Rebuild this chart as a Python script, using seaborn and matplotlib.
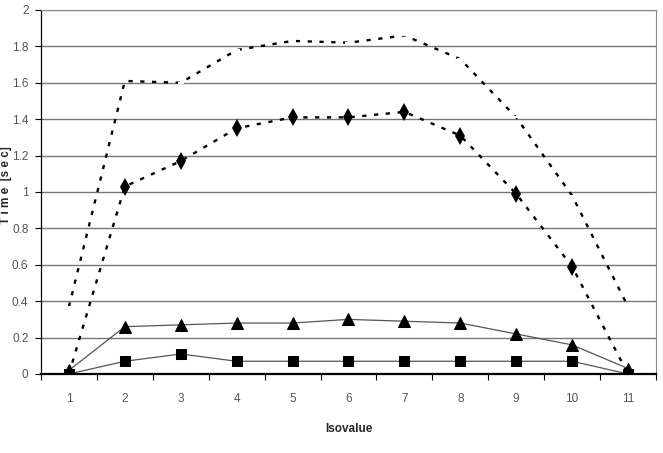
import matplotlib
matplotlib.use("Agg")
import matplotlib.pyplot as plt
import seaborn as sns
import pandas as pd

isovalue = [1, 2, 3, 4, 5, 6, 7, 8, 9, 10, 11]
series_top = [0.37, 1.61, 1.60, 1.78, 1.83, 1.82, 1.86, 1.73, 1.41, 0.98, 0.37]
series_diamond = [0.0, 1.03, 1.17, 1.35, 1.41, 1.41, 1.44, 1.31, 0.99, 0.59, 0.0]
series_triangle = [0.02, 0.26, 0.27, 0.28, 0.28, 0.30, 0.29, 0.28, 0.22, 0.16, 0.03]
series_square = [0.0, 0.07, 0.11, 0.07, 0.07, 0.07, 0.07, 0.07, 0.07, 0.07, 0.0]
y_ticks = [0, 0.2, 0.4, 0.6, 0.8, 1, 1.2, 1.4, 1.6, 1.8, 2]

sns.set_style("white")
plt.rcParams['font.family'] = ['Liberation Sans', 'DejaVu Sans']

fig = plt.figure(figsize=(6.63, 4.53), dpi=100)
ax = fig.add_axes([0.0618, 0.1744, 0.9276, 0.8036])

styles = [
    (series_top, dict(color='black', lw=1.7, ls=(0, (1.8, 3.2)), marker='_', ms=5, mew=1.5)),
    (series_diamond, dict(color='black', lw=1.7, ls=(0, (1.8, 3.2)), marker='d', ms=9, mew=0)),
    (series_triangle, dict(color='#555555', lw=0.9, ls='-', marker='^', ms=8, mfc='black', mec='black')),
    (series_square, dict(color='#555555', lw=0.9, ls='-', marker='s', ms=7, mfc='black', mec='black')),
]
for vals, kw in styles:
    df = pd.DataFrame({'Isovalue': isovalue, 'Time': vals})
    sns.lineplot(data=df, x='Isovalue', y='Time', ax=ax, **kw)

ax.set_xlim(0.5, 11.5)
ax.set_ylim(0, 2)
ax.set_yticks(y_ticks)
ax.set_yticklabels(['0', '0.2', '0.4', '0.6', '0.8', '1', '1.2', '1.4', '1.6', '1.8', '2'])
ax.set_xticks(isovalue)
ax.set_xticks([i + 0.5 for i in range(0, 12)], minor=True)
ax.yaxis.grid(True, color='#777777', lw=1.0)
ax.set_axisbelow(True)
ax.tick_params(axis='x', which='major', length=0, labelsize=8.5, pad=14)
ax.tick_params(axis='x', which='minor', length=4, width=0.8, color='black', direction='out', bottom=True)
ax.tick_params(axis='y', which='major', length=4, width=0.8, color='black', direction='out', left=True,
               labelsize=8.5, pad=5)
for lbl in ax.get_xticklabels() + ax.get_yticklabels():
    lbl.set_color('#555555')

ax.spines['left'].set_color('black')
ax.spines['left'].set_linewidth(0.9)
ax.spines['bottom'].set_color('black')
ax.spines['bottom'].set_linewidth(1.6)
ax.spines['right'].set_color('#888888')
ax.spines['top'].set_color('#888888')

ax.set_xlabel('Isovalue', fontsize=8.5, fontweight='bold')
ax.xaxis.set_label_coords(0.5, -0.135)
ax.set_ylabel('T i m e  [s e c]', fontsize=8.5, fontweight='bold', va='center')
ax.yaxis.set_label_coords(-0.057, 0.52)

fig.savefig('out.png', dpi=100)
